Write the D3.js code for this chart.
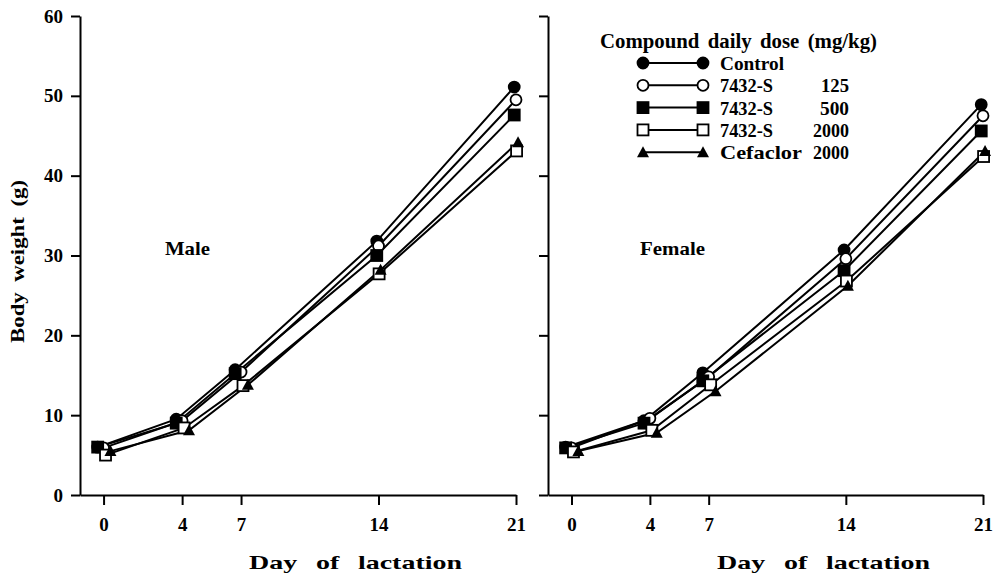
<!DOCTYPE html>
<html>
<head>
<meta charset="utf-8">
<script src="https://cdn.jsdelivr.net/npm/d3@7"></script>
<style>
  body { margin: 0; background: #fff; }
  text { font-family: "Liberation Serif", "DejaVu Serif", serif; font-weight: bold; fill: #000; }
</style>
</head>
<body>
<div id="chart"></div>
<script>
const days = [0, 4, 7, 14, 21];
const seriesNames = ['Control', '7432-S', '7432-S', '7432-S', 'Cefaclor'];
const seriesDoses = ['', '125', '500', '2000', '2000'];
const seriesMarkers = ['circleFilled', 'circleOpen', 'squareFilled', 'squareOpen', 'triangle'];
const yTicks = [0, 10, 20, 30, 40, 50, 60];

// body weight (g) per series, by day
const maleValues = [
  [6.0, 9.5, 15.7, 31.8, 51.1],
  [5.9, 9.3, 15.4, 31.2, 49.5],
  [6.0, 9.0, 15.2, 30.0, 47.6],
  [5.0, 8.4, 13.7, 27.7, 43.1],
  [5.5, 8.1, 13.8, 28.2, 44.2]
];
const femaleValues = [
  [6.0, 9.3, 15.3, 30.7, 48.9],
  [5.9, 9.6, 14.8, 29.6, 47.5],
  [5.9, 9.0, 14.3, 28.1, 45.6],
  [5.4, 8.1, 13.8, 26.8, 42.4],
  [5.5, 7.8, 13.0, 26.2, 43.1]
];
// small horizontal offsets (days) used in the original to separate markers
const jitter = [-0.3, 0, -0.3, 0.1, 0.35];

const W = 995, H = 577;
const svg = d3.select('#chart').append('svg')
  .attr('width', W).attr('height', H);

const y = d3.scaleLinear().domain([0, 60]).range([495, 16]);

// the original typeface is wide; stretch text to its measured width
const fit = (sel, len) => sel.attr('textLength', len).attr('lengthAdjust', 'spacingAndGlyphs');

const drawMarker = (g, type, cx, cy) => {
  const s = 11;
  if (type === 'circleFilled' || type === 'circleOpen') {
    g.append('circle').attr('cx', cx).attr('cy', cy).attr('r', 5.5)
      .attr('fill', type === 'circleFilled' ? '#000' : '#fff')
      .attr('stroke', '#000').attr('stroke-width', 1.8);
  } else if (type === 'squareFilled' || type === 'squareOpen') {
    g.append('rect').attr('x', cx - s / 2).attr('y', cy - s / 2)
      .attr('width', s).attr('height', s)
      .attr('fill', type === 'squareFilled' ? '#000' : '#fff')
      .attr('stroke', '#000').attr('stroke-width', 1.8);
  } else {
    g.append('path')
      .attr('d', `M${cx},${cy - 6}L${cx + 6},${cy + 5}L${cx - 6},${cy + 5}Z`)
      .attr('fill', '#000');
  }
};

const drawPanel = (values, x0, x1, showLabels, label, labelX, labelW, titleX) => {
  const x = d3.scaleLinear().domain([-1.2, 21]).range([x0, x1]);
  const g = svg.append('g');

  const xAxis = g.append('g').attr('transform', 'translate(0,495)')
    .call(d3.axisBottom(x).tickValues(days).tickSize(10).tickPadding(13).tickSizeOuter(0));
  xAxis.selectAll('text').style('font-size', '19px');

  const yAxis = g.append('g').attr('transform', `translate(${x0},0)`)
    .call(d3.axisLeft(y).tickValues(yTicks).tickSize(9).tickPadding(8).tickSizeOuter(0)
      .tickFormat(showLabels ? d3.format('d') : () => ''));
  yAxis.selectAll('text').style('font-size', '19px');
  g.selectAll('.domain, .tick line').attr('stroke', '#000').attr('stroke-width', 2);

  g.append('text').attr('x', titleX).attr('y', 569)
    .style('font-size', '19px').style('font-weight', '600').style('word-spacing', '8px')
    .text('Day of lactation')
    .call(fit, 213);

  g.append('text').attr('x', labelX).attr('y', 255)
    .style('font-size', '19px').text(label).call(fit, labelW);

  const line = d3.line().x(d => x(d[0])).y(d => y(d[1]));
  values.forEach((vals, i) => {
    const pts = days.map((d, j) => [d + jitter[i] * (j < 3 ? 1 : 0.3), vals[j]]);
    g.append('path').datum(pts).attr('d', line)
      .attr('fill', 'none').attr('stroke', '#000').attr('stroke-width', 2);
  });
  values.forEach((vals, i) => {
    days.forEach((d, j) => {
      drawMarker(g, seriesMarkers[i], x(d + jitter[i] * (j < 3 ? 1 : 0.3)), y(vals[j]));
    });
  });
};

drawPanel(maleValues, 80, 516, true, 'Male', 165, 45, 249);
drawPanel(femaleValues, 548, 983, false, 'Female', 640, 65, 717);

svg.append('text')
  .attr('transform', 'translate(24,343) rotate(-90)')
  .style('font-size', '19px').style('word-spacing', '4px')
  .text('Body weight (g)').call(fit, 163);

// legend
const legendNameW = [64, 53, 53, 53, 82];
const legendDoseW = [0, 28, 29, 36, 36];
const leg = svg.append('g');
leg.append('text').attr('x', 600).attr('y', 48).style('font-size', '20px')
  .style('word-spacing', '3px')
  .text('Compound daily dose (mg/kg)').call(fit, 277);
seriesNames.forEach((name, i) => {
  const ly = 63 + i * 22.3;
  leg.append('line').attr('x1', 643).attr('x2', 703).attr('y1', ly).attr('y2', ly)
    .attr('stroke', '#000').attr('stroke-width', 2);
  drawMarker(leg, seriesMarkers[i], 643, ly);
  drawMarker(leg, seriesMarkers[i], 703, ly);
  leg.append('text').attr('x', 720).attr('y', ly + 7).style('font-size', '19px')
    .text(name).call(fit, legendNameW[i]);
  if (seriesDoses[i]) {
    leg.append('text').attr('x', 849 - legendDoseW[i]).attr('y', ly + 7)
      .style('font-size', '19px').text(seriesDoses[i]).call(fit, legendDoseW[i]);
  }
});
</script>
</body>
</html>
